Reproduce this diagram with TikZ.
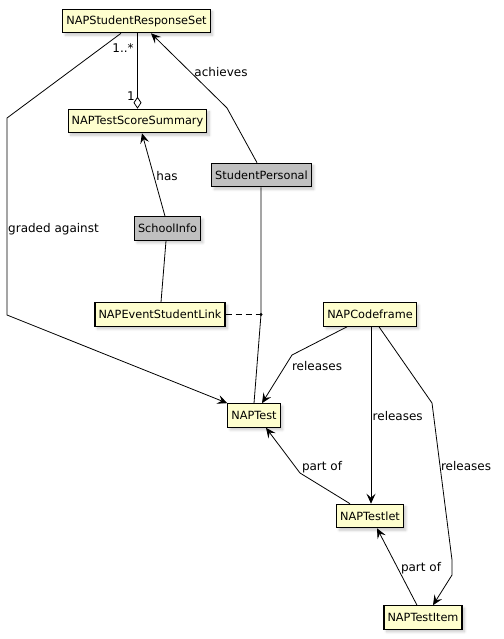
\documentclass[tikz,border=0pt]{standalone}
\usepackage{fontspec}
\setmainfont{DejaVu Sans}
\usetikzlibrary{arrows.meta,shadows.blur,calc}
\definecolor{classfill}{HTML}{FEFECE}
\definecolor{extfill}{HTML}{C0C0C0}
\tikzset{
  cls/.style={draw=black, line width=1.1pt, fill=classfill, minimum height=23.5pt,
    inner xsep=3.5pt, inner ysep=2pt, font=\fontsize{11.3}{13}\selectfont,
    blur shadow={shadow xshift=2.5pt, shadow yshift=-2.5pt, shadow blur radius=2.5pt,
      shadow blur steps=8, shadow opacity=22}},
  extcls/.style={cls, fill=extfill},
  link/.style={line width=0.8pt, draw=black},
  arr/.style={link, -{Stealth[length=10pt,width=9pt,inset=4pt]}},
  agg/.style={link, -{Diamond[open,length=12pt,width=8pt,line width=0.8pt]}},
  lbl/.style={font=\fontsize{12}{14}\selectfont, inner sep=0pt},
}
\begin{document}
\begin{tikzpicture}[x=1pt,y=-1pt]
\useasboundingbox (0,0) rectangle (503,639);

% classes
\node[cls]    (rs)  at (136.5,21)  {NAPStudentResponseSet};
\node[cls]    (tss) at (137.5,121) {NAPTestScoreSummary};
\node[extcls] (sp)  at (261.5,175) {StudentPersonal};
\node[extcls] (si)  at (167.5,228.5) {SchoolInfo};
\node[cls]    (esl) at (160,314.5) {NAPEventStudentLink};
\node[cls]    (cf)  at (370,314.5) {NAPCodeframe};
\node[cls]    (nt)  at (254,415.5) {NAPTest};
\node[cls]    (tl)  at (370,516)   {NAPTestlet};
\node[cls]    (ti)  at (423,617.5) {NAPTestItem};

% graded against
\coordinate (g1) at (7,118);
\coordinate (g2) at (7,315);
\draw[arr] ($(rs.south)+(-15.5,0)$) -- (g1) -- (g2) -- (nt.north west);
\node[lbl, anchor=west] (lgraded) at (8,229) {graded against};

% aggregation
\draw[agg] (rs.south -| tss.north) -- (tss.north);
\node[lbl] (lmany) at (123,48) {1..*};
\node[lbl] (lone)  at (131,96) {1};

% achieves
\coordinate (a1) at (227,108);
\draw[arr] ($(sp.north)+(-4.5,0)$) -- (a1) -- ($(rs.south)+(14.5,0)$);
\node[lbl] (lach) at (221,72) {achieves};

% has
\draw[arr] ($(si.north)+(-2.5,0)$) -- ($(tss.south)+(4.5,0)$);
\node[lbl] (lhas) at (167,176) {has};

% school to link
\draw[link] ($(si.south)+(-1.5,0)$) -- ($(esl.north)+(1,0)$);

% student to test, with association class
\coordinate (dot) at (261,314.5);
\draw[link] ($(sp.south)+(-0.5,0)$) -- (dot) -- (nt.north);
\fill (dot) circle (1.6pt);
\draw[link, dash pattern=on 6pt off 4pt] (esl.east) -- (dot);

% codeframe releases test
\coordinate (r1) at (292,355);
\draw[arr] ($(cf.south)+(-23,0)$) -- (r1) -- ($(nt.north)+(8,0)$);
\node[lbl] (lrel1) at (317,366) {releases};

% codeframe releases testlet
\draw[arr] ($(cf.south)+(1,0)$) -- ($(tl.north)+(1,0)$);
\node[lbl, anchor=west] (lrel2) at (372.5,416) {releases};

% codeframe releases item
\coordinate (q1) at (432,403);
\coordinate (q2) at (452,560);
\coordinate (q3) at (452,575);
\draw[arr] ($(cf.south)+(9,0)$) -- (q1) -- (q2) -- (q3) -- ($(ti.north)+(10,0)$);
\node[lbl] (lrel3) at (466,466) {releases};

% testlet part of test
\coordinate (p1) at (300,473);
\draw[arr] ($(tl.north)+(-20,0)$) -- (p1) -- ($(nt.south)+(12,0)$);
\node[lbl] (lpart1) at (322,467) {part of};

% item part of testlet
\draw[arr] ($(ti.north)+(-6,0)$) -- ($(tl.south)+(7,0)$);
\node[lbl] (lpart2) at (421,568) {part of};
\end{tikzpicture}
\end{document}
